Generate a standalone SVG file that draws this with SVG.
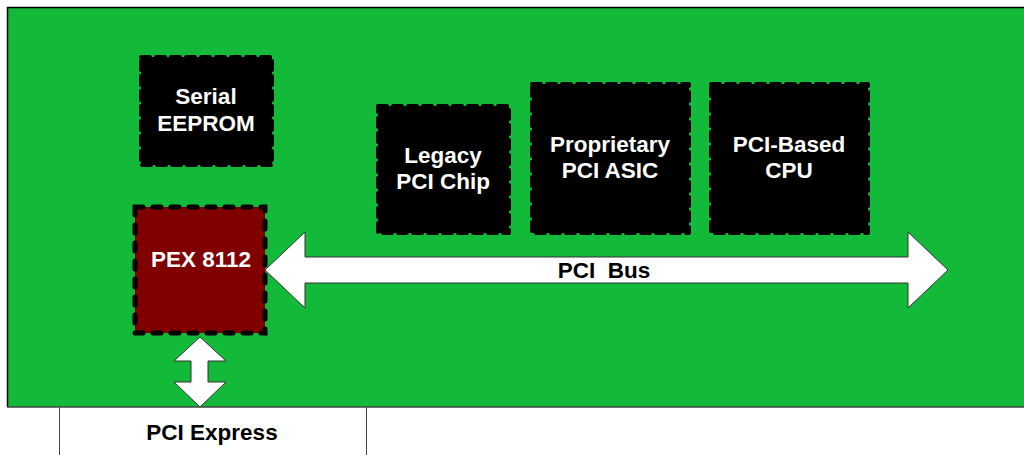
<svg xmlns="http://www.w3.org/2000/svg" width="1024" height="455" viewBox="0 0 1024 455">
<style>
.chip{fill:#000;stroke:#000;stroke-width:4;stroke-dasharray:9 6;stroke-linecap:round;stroke-linejoin:round}
.pex{fill:#800000;stroke:#000;stroke-width:5;stroke-dasharray:8 10;stroke-linecap:round}
.wt{fill:#fff;font-family:"Liberation Sans",Arial,sans-serif;font-weight:bold;font-size:22.5px;text-anchor:middle}
.bt{fill:#000;font-family:"Liberation Sans",Arial,sans-serif;font-weight:bold;font-size:22.5px;text-anchor:middle;white-space:pre}
.arr{fill:#fff;stroke:#333;stroke-width:1}
</style>
<rect x="0" y="0" width="1024" height="455" fill="#fff"/>
<g id="board">
<rect x="7.5" y="7.5" width="1020" height="399.5" fill="#13B938" stroke="none"/>
<path d="M7.5 407 V7.5 H1024" fill="none" stroke="#000" stroke-width="1.5"/>
<line x1="7" y1="407" x2="1024" y2="407" stroke="#444" stroke-width="1.5"/>
</g>
<g id="pci-express">
<path d="M59.5 407 V455 M366.5 407 V455" stroke="#444" stroke-width="1" fill="none"/>
<text class="bt" x="212" y="440">PCI Express</text>
</g>
<g id="connectors">
<polygon class="arr" points="265,270 305,232 305,257 908,257 908,232 948,270 908,308 908,283 305,283 305,308"/>
<text class="bt" x="604" y="278" xml:space="preserve">PCI  Bus</text>
<polygon class="arr" points="200,337 226,361 208,361 208,382 226,382 200,407 174,382 191,382 191,361 174,361"/>
</g>
<g id="serial-eeprom">
<rect class="chip" x="141" y="57" width="131" height="108"/>
<text class="wt" x="206" y="104">Serial</text>
<text class="wt" x="206" y="131">EEPROM</text>
</g>
<g id="legacy-pci-chip">
<rect class="chip" x="378" y="106" width="131" height="127"/>
<text class="wt" x="443" y="163">Legacy</text>
<text class="wt" x="443" y="189">PCI Chip</text>
</g>
<g id="proprietary-pci-asic">
<rect class="chip" x="532" y="84" width="157" height="149"/>
<text class="wt" x="610" y="152">Proprietary</text>
<text class="wt" x="610" y="178">PCI ASIC</text>
</g>
<g id="pci-based-cpu">
<rect class="chip" x="711" y="84" width="157" height="149"/>
<text class="wt" x="789" y="152">PCI-Based</text>
<text class="wt" x="789" y="178">CPU</text>
</g>
<g id="pex-8112">
<rect class="pex" x="135" y="207" width="130" height="126"/>
<text class="wt" x="201" y="267">PEX 8112</text>
</g>
</svg>
